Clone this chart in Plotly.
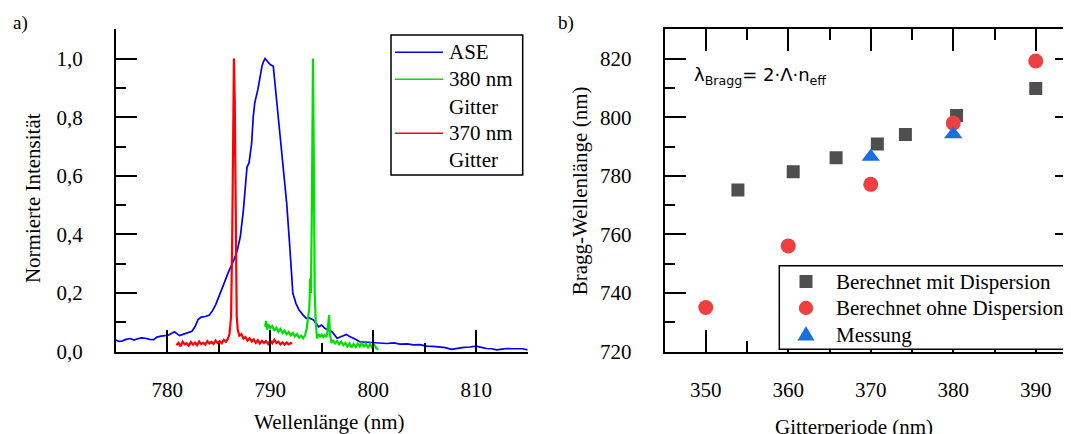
import plotly.graph_objects as go

# ---------------- Panel a) : spectra ----------------
ase_wl = [775.0, 775.3, 775.6, 776.0, 776.4, 776.8, 777.1, 777.5, 777.9, 778.3, 778.7, 779.0,
          779.4, 779.8, 780.1, 780.4, 780.7, 781.0, 781.2, 781.6, 782.0, 782.4, 782.7, 783.0,
          783.3, 783.7, 784.1, 784.4, 784.7, 785.0, 785.3, 785.6, 785.9, 786.2, 786.5, 786.8,
          787.1, 787.4, 787.6, 787.75, 787.95, 788.2, 788.35, 788.5, 788.8, 789.05, 789.2, 789.35,
          789.5, 789.75, 790.0, 790.3, 790.6, 790.9, 791.3, 791.6, 791.9, 792.2, 792.5, 792.8,
          793.2, 793.5, 793.8, 794.2, 794.5, 794.7, 795.0, 795.3, 795.6, 796.0, 796.5, 796.9,
          797.4, 797.7, 798.1, 798.7, 799.3, 800.0, 800.6, 801.3, 802.0, 802.6, 803.3, 803.9,
          804.5, 805.2, 805.8, 806.5, 807.0, 807.6, 808.2, 808.8, 809.4, 810.0, 810.5, 811.0,
          811.5, 812.0, 812.5, 813.0, 813.5, 814.0, 814.5, 815.0]
ase_int = [0.040, 0.035, 0.036, 0.042, 0.045, 0.040, 0.044, 0.047, 0.046, 0.042, 0.041, 0.050,
           0.053, 0.054, 0.056, 0.062, 0.068, 0.060, 0.055, 0.060, 0.064, 0.070, 0.085, 0.110,
           0.118, 0.120, 0.125, 0.140, 0.160, 0.185, 0.211, 0.240, 0.268, 0.290, 0.315, 0.345,
           0.393, 0.484, 0.580, 0.630, 0.645, 0.712, 0.800, 0.849, 0.894, 0.950, 0.974, 0.990,
           1.000, 0.990, 0.980, 0.974, 0.871, 0.757, 0.632, 0.507, 0.359, 0.199, 0.165, 0.142,
           0.125, 0.114, 0.115, 0.108, 0.095, 0.085, 0.091, 0.080, 0.075, 0.068, 0.046, 0.051,
           0.059, 0.052, 0.046, 0.034, 0.033, 0.031, 0.030, 0.028, 0.030, 0.026, 0.027, 0.023,
           0.024, 0.019, 0.018, 0.017, 0.014, 0.008, 0.012, 0.015, 0.016, 0.019, 0.015, 0.011,
           0.010, 0.006, 0.009, 0.011, 0.010, 0.009, 0.010, 0.006]

g380_wl = [789.5, 789.6, 789.7, 789.8, 790.0, 790.2, 790.4, 790.6, 790.8, 791.0, 791.2, 791.4,
           791.6, 791.8, 792.0, 792.2, 792.4, 792.6, 792.8, 793.0, 793.2, 793.4, 793.55, 793.7,
           793.8, 793.88, 793.95, 794.05, 794.15, 794.25, 794.32, 794.42, 794.55, 794.7, 794.85,
           795.0, 795.15, 795.3, 795.45, 795.55, 795.65, 795.72, 795.8, 795.95, 796.1, 796.3,
           796.5, 796.7, 796.9, 797.1, 797.3, 797.5, 797.7, 797.9, 798.1, 798.3, 798.5, 798.7,
           798.9, 799.1, 799.3, 799.5, 799.7, 799.9, 800.1, 800.3, 800.5]
g380_int = [0.085, 0.105, 0.075, 0.095, 0.080, 0.088, 0.072, 0.082, 0.068, 0.078, 0.064, 0.072,
            0.060, 0.068, 0.056, 0.064, 0.052, 0.060, 0.048, 0.055, 0.046, 0.058, 0.080, 0.125,
            0.150, 0.250, 0.200, 0.500, 1.000, 0.600, 0.200, 0.100, 0.045, 0.060, 0.052,
            0.058, 0.050, 0.057, 0.050, 0.065, 0.095, 0.125, 0.060, 0.030, 0.040, 0.028,
            0.036, 0.025, 0.034, 0.022, 0.030, 0.018, 0.028, 0.014, 0.026, 0.016, 0.028, 0.018,
            0.030, 0.016, 0.027, 0.015, 0.026, 0.014, 0.024, 0.012, 0.008]

g370_wl = [780.9, 781.1, 781.3, 781.5, 781.7, 781.9, 782.1, 782.3, 782.5, 782.7, 782.9, 783.1,
           783.3, 783.5, 783.7, 783.9, 784.1, 784.3, 784.5, 784.7, 784.9, 785.1, 785.3, 785.5,
           785.7, 785.9, 786.05, 786.2, 786.3, 786.4, 786.48, 786.56, 786.65, 786.75, 786.85,
           787.0, 787.2, 787.4, 787.6, 787.8, 788.0, 788.2, 788.4, 788.6, 788.8, 789.0, 789.2,
           789.4, 789.6, 789.8, 790.0, 790.2, 790.4, 790.6, 790.8, 791.0, 791.2, 791.4, 791.6,
           791.8, 792.0, 792.1]
g370_int = [0.022, 0.030, 0.018, 0.034, 0.025, 0.029, 0.020, 0.033, 0.024, 0.031, 0.022, 0.035,
            0.026, 0.030, 0.024, 0.036, 0.028, 0.033, 0.026, 0.038, 0.030, 0.036, 0.029, 0.041,
            0.034, 0.045, 0.060, 0.120, 0.350, 0.800, 1.000, 0.850, 0.400, 0.120, 0.075,
            0.055, 0.060, 0.045, 0.050, 0.038, 0.046, 0.035, 0.042, 0.030, 0.039, 0.028, 0.037,
            0.030, 0.036, 0.026, 0.038, 0.029, 0.041, 0.030, 0.034, 0.025, 0.032, 0.024, 0.031,
            0.025, 0.030, 0.026]

# ---------------- Panel b) : Bragg wavelength ----------------
disp_period = [353.9, 360.6, 365.8, 370.8, 374.2, 380.4, 390.0]
disp_bragg = [775.2, 781.4, 786.2, 790.9, 794.1, 800.6, 809.8]
nodisp_period = [350, 360, 370, 380, 390]
nodisp_bragg = [735.1, 756.1, 777.1, 798.0, 819.2]
meas_period = [370, 380]
meas_bragg = [786.5, 794.2]

legend_a_labels = ["ASE", "380 nm", "Gitter", "370 nm", "Gitter"]
legend_b_labels = ["Berechnet mit Dispersion", "Berechnet ohne Dispersion", "Messung"]

# ---------------- layout helpers ----------------
W, H = 1071, 434
OFF = 8  # page body margin around the figure


def fx(p):
    return (p - OFF) / W


def fy(p):
    return (H - (p - OFF)) / H


SERIF = "Liberation Serif"
SANS = "DejaVu Sans"
FS = 21
TICKFONT = dict(family=SERIF, size=FS, color="black")

C_ASE, C_380, C_370 = "#0000ee", "#00e000", "#ff0000"
C_DISP, C_NODISP, C_MEAS = "#4f4f4f", "#ee4040", "#1a6fe0"

fig = go.Figure()

fig.add_trace(go.Scatter(x=ase_wl, y=ase_int, mode="lines", name="ASE",
                         line=dict(color=C_ASE, width=1.7), xaxis="x", yaxis="y"))
fig.add_trace(go.Scatter(x=g380_wl, y=g380_int, mode="lines", name="380 nm Gitter",
                         line=dict(color=C_380, width=2.2), xaxis="x", yaxis="y"))
fig.add_trace(go.Scatter(x=g370_wl, y=g370_int, mode="lines", name="370 nm Gitter",
                         line=dict(color=C_370, width=2.2), xaxis="x", yaxis="y"))

fig.add_trace(go.Scatter(x=disp_period, y=disp_bragg, mode="markers",
                         name=legend_b_labels[0],
                         marker=dict(symbol="square", size=13, color=C_DISP),
                         xaxis="x2", yaxis="y2"))
fig.add_trace(go.Scatter(x=nodisp_period, y=nodisp_bragg, mode="markers",
                         name=legend_b_labels[1],
                         marker=dict(symbol="circle", size=15, color=C_NODISP),
                         xaxis="x2", yaxis="y2"))
fig.add_trace(go.Scatter(x=meas_period, y=meas_bragg, mode="markers",
                         name=legend_b_labels[2],
                         marker=dict(symbol="triangle-up", size=16, color=C_MEAS),
                         xaxis="x2", yaxis="y2"))

ax_common = dict(showgrid=False, zeroline=False, showline=True, linecolor="black",
                 linewidth=1.5, ticks="inside", tickcolor="black", tickwidth=1.5,
                 tickfont=TICKFONT)
minor_common = dict(ticks="inside", tickcolor="black", tickwidth=1.5, showgrid=False)

yd = [fy(351.7), fy(29.3)]
xd1 = [fx(115.7), fx(527.7)]
xd2 = [fx(664.5), fx(1077.0)]

layout = dict(
    width=W, height=H,
    margin=dict(l=0, r=0, t=0, b=0, pad=0, autoexpand=False),
    paper_bgcolor="white", plot_bgcolor="white",
    separators=",.",
    font=dict(family=SERIF, size=FS, color="black"),
    showlegend=False,
    xaxis=dict(ax_common, domain=xd1, range=[775, 815], anchor="y", tick0=780, dtick=10,
               ticklen=22, minor=dict(minor_common, dtick=5, ticklen=9),
               ticklabelstandoff=18),
    xaxis3=dict(ax_common, overlaying="x", side="top", anchor="y", range=[775, 815],
                tick0=775, dtick=5, ticklen=22, showticklabels=False),
    yaxis=dict(ax_common, domain=yd, range=[0, 1.1], anchor="x", tick0=0, dtick=0.2,
               tickformat=".1f", ticklen=22, minor=dict(minor_common, dtick=0.1, ticklen=11),
               ticklabelstandoff=27),
    yaxis3=dict(ax_common, overlaying="y", side="right", anchor="x", range=[0, 1.1],
                tick0=0, dtick=0.1, ticklen=21, showticklabels=False),
    xaxis2=dict(ax_common, domain=xd2, range=[345, 395], anchor="y2", tick0=350, dtick=10,
                ticklen=22, minor=dict(minor_common, dtick=5, ticklen=11),
                mirror="allticks", ticklabelstandoff=18),
    yaxis2=dict(ax_common, domain=yd, range=[720, 830], anchor="x2", tick0=720, dtick=20,
                ticklen=22, minor=dict(minor_common, dtick=10, ticklen=11),
                mirror="allticks", ticklabelstandoff=27),
)
fig.update_layout(layout)


def rect(x0, y0, x1, y1, **kw):
    return dict(type="rect", xref="paper", yref="paper", x0=fx(x0), x1=fx(x1),
                y0=fy(y1), y1=fy(y0), layer="above", **kw)


shapes = []
# legend box, panel a)
shapes.append(rect(391, 35, 522.7, 175, line=dict(color="black", width=1.5),
                   fillcolor="white"))
for yc, col in [(52.3, C_ASE), (79.3, C_380), (133.3, C_370)]:
    shapes.append(dict(type="line", xref="paper", yref="paper", x0=fx(395), x1=fx(443),
                       y0=fy(yc), y1=fy(yc), layer="above",
                       line=dict(color=col, width=1.6)))
# legend box, panel b)
shapes.append(rect(779.3, 265.7, 1095, 349.3, line=dict(color="black", width=1.5),
                   fillcolor="white"))
shapes.append(rect(799.5, 275.0, 812.5, 288.0, line=dict(width=0), fillcolor=C_DISP))
shapes.append(dict(type="circle", xref="paper", yref="paper", x0=fx(798.8), x1=fx(813.2),
                   y0=fy(315.2), y1=fy(300.8), layer="above", line=dict(width=0),
                   fillcolor=C_NODISP))
tri = "M {:.5f} {:.5f} L {:.5f} {:.5f} L {:.5f} {:.5f} Z".format(
    fx(797.5), fy(340.5), fx(814.5), fy(340.5), fx(806.0), fy(326.0))
shapes.append(dict(type="path", xref="paper", yref="paper", path=tri, layer="above",
                   line=dict(width=0), fillcolor=C_MEAS))
fig.update_layout(shapes=shapes)

annots = [
    dict(text="Wellenlänge (nm)", x=fx(329), y=fy(421.7), xanchor="center", yanchor="middle",
         font=dict(family=SERIF, size=FS)),
    dict(text="Gitterperiode (nm)", x=fx(854.2), y=fy(426.7), xanchor="center",
         yanchor="middle", font=dict(family=SERIF, size=FS)),
    dict(text="Normierte Intensität", x=fx(33.8), y=fy(198.3), xanchor="center",
         yanchor="middle", textangle=-90, font=dict(family=SERIF, size=FS)),
    dict(text="Bragg-Wellenlänge (nm)", x=fx(579.5), y=fy(190.8), xanchor="center",
         yanchor="middle", textangle=-90, font=dict(family=SERIF, size=FS)),
    dict(text="a)", x=fx(11), y=fy(23), xanchor="left", yanchor="middle",
         font=dict(family=SERIF, size=19)),
    dict(text="b)", x=fx(556), y=fy(23), xanchor="left", yanchor="middle",
         font=dict(family=SERIF, size=19)),
    dict(text="λ<sub>Bragg</sub>= 2·Λ·n<sub>eff</sub>", x=fx(692), y=fy(76),
         xanchor="left", yanchor="middle", font=dict(family=SANS, size=18)),
]
for lab, yc in zip(legend_a_labels, [52.3, 79.3, 106.7, 133.3, 160.0]):
    annots.append(dict(text=lab, x=fx(447), y=fy(yc), xanchor="left", yanchor="middle",
                       font=dict(family=SERIF, size=FS)))
for lab, yc in zip(legend_b_labels, [281.5, 308.0, 334.5]):
    annots.append(dict(text=lab, x=fx(834), y=fy(yc), xanchor="left", yanchor="middle",
                       font=dict(family=SERIF, size=FS)))
for a in annots:
    a.update(xref="paper", yref="paper", showarrow=False)
fig.update_layout(annotations=annots)

fig.write_html("out.html")
